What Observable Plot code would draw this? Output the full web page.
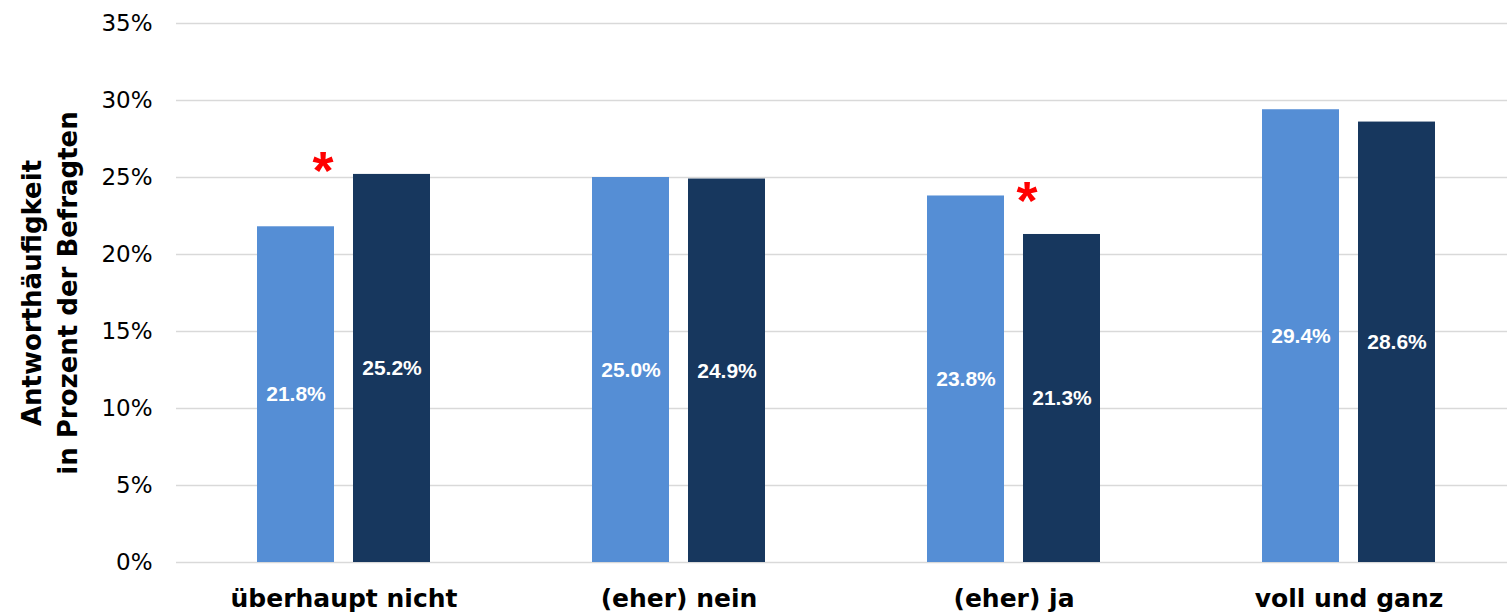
<!DOCTYPE html>
<html>
<head>
<meta charset="utf-8">
<script src="https://cdn.jsdelivr.net/npm/d3@7"></script>
<script src="https://cdn.jsdelivr.net/npm/@observablehq/plot@0.6"></script>
<style>
  html, body { margin: 0; padding: 0; background: #fff; }
  #chart svg { display: block; }
</style>
</head>
<body>
<div id="chart"></div>
<script>
const categories = ["überhaupt nicht", "(eher) nein", "(eher) ja", "voll und ganz"];
const seriesNames = ["Gruppe A", "Gruppe B"];
const valuesA = [21.8, 25.0, 23.8, 29.4];
const valuesB = [25.2, 24.9, 21.3, 28.6];
const yTicks = [0, 5, 10, 15, 20, 25, 30, 35];
const yTitle = "Antworthäufigkeit\nin Prozent der Befragten";
const asteriskCats = ["überhaupt nicht", "(eher) ja"];
const asteriskY = [26.0, 24.1];
const colors = ["#558ED5", "#17375E"];

const data = [];
categories.forEach((c, i) => {
  data.push({cat: c, series: seriesNames[0], v: valuesA[i]});
  data.push({cat: c, series: seriesNames[1], v: valuesB[i]});
});

const chart = Plot.plot({
  width: 1507,
  height: 616,
  marginLeft: 174,
  marginRight: -10,
  marginTop: 23,
  marginBottom: 54,
  style: {fontFamily: "'DejaVu Sans', sans-serif", background: "#fff"},
  fx: {domain: categories, padding: 0, label: null},
  x: {domain: seriesNames, paddingInner: 0.199, paddingOuter: 0.84, axis: null},
  y: {domain: [0, 35], label: null, axis: null},
  color: {domain: seriesNames, range: colors},
  marks: [
    Plot.ruleY(yTicks, {stroke: "#d9d9d9", strokeWidth: 1.3}),
    Plot.axisY(yTicks, {
      anchor: "left", tickSize: 0, tickPadding: 24, fontSize: 23, fill: "#000",
      tickFormat: d => d + "%", label: null
    }),
    Plot.axisFx({
      anchor: "bottom", tickSize: 0, tickPadding: 27, fontSize: 25,
      fontWeight: "bold", fill: "#000", label: null
    }),
    Plot.barY(data, {fx: "cat", x: "series", y: "v", fill: "series"}),
    Plot.text(data, {
      fx: "cat", x: "series", y: d => d.v / 2,
      text: d => d.v.toFixed(1) + "%",
      fill: "#fff", fontSize: 21, fontWeight: "bold",
      fontFamily: "'Liberation Sans', Arial, sans-serif"
    }),
    Plot.text([{cat: asteriskCats[0], y: asteriskY[0]}], {
      fx: "cat", y: "y", text: () => "*", frameAnchor: "middle", dx: -21, dy: 10,
      fill: "#ff0000", fontSize: 54, fontWeight: "bold",
      fontFamily: "'Liberation Sans', Arial, sans-serif"
    }),
    Plot.text([{cat: asteriskCats[1], y: asteriskY[1]}], {
      fx: "cat", y: "y", text: () => "*", frameAnchor: "middle", dx: 13, dy: 10,
      fill: "#ff0000", fontSize: 54, fontWeight: "bold",
      fontFamily: "'Liberation Sans', Arial, sans-serif"
    }),
    Plot.text([{cat: categories[0], t: yTitle}], {
      fx: "cat", text: "t", frameAnchor: "left", textAnchor: "middle", lineAnchor: "middle",
      dx: -129, rotate: -90,
      fill: "#000", fontSize: 26, fontWeight: "bold", lineHeight: 1.38
    })
  ]
});
document.getElementById("chart").appendChild(chart);
</script>
</body>
</html>
